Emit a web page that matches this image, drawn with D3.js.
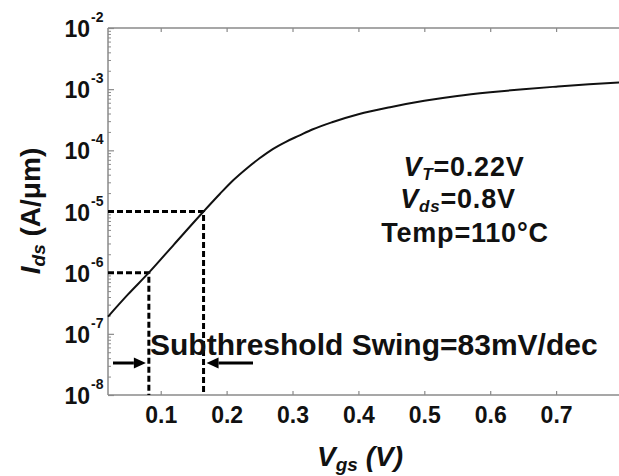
<!DOCTYPE html>
<html>
<head>
<meta charset="utf-8">
<script src="https://cdn.jsdelivr.net/npm/d3@7"></script>
<style>
  html, body { margin: 0; padding: 0; background: #fff; }
  svg { display: block; font-family: "Liberation Sans", Arial, sans-serif; }
</style>
</head>
<body>
<svg id="chart" width="619" height="476"></svg>
<script>
// Transfer characteristic: gate voltage (V) vs drain current (A/um)
const vgs = [0.02, 0.05, 0.082, 0.12, 0.165, 0.19, 0.21, 0.23, 0.25, 0.27, 0.29, 0.31,
             0.33, 0.36, 0.4, 0.45, 0.5, 0.55, 0.6, 0.65, 0.7, 0.75, 0.8];
const ids = [1.91e-7, 4.37e-7, 1.0e-6, 2.88e-6, 1.0e-5, 1.95e-5, 3.24e-5, 5.01e-5,
             7.41e-5, 1.05e-4, 1.38e-4, 1.74e-4, 2.19e-4, 2.88e-4, 3.89e-4, 5.13e-4,
             6.46e-4, 7.76e-4, 8.91e-4, 1.0e-3, 1.10e-3, 1.20e-3, 1.29e-3];

// Two reference points used to read the subthreshold swing
const markerV = [0.082, 0.165];
const markerI = [1e-6, 1e-5];

const xTicks = [0.1, 0.2, 0.3, 0.4, 0.5, 0.6, 0.7];
const yExponents = [-2, -3, -4, -5, -6, -7, -8];
const notes = ["VT=0.22V", "Vds=0.8V", "Temp=110°C"];
const swingLabel = "Subthreshold Swing=83mV/dec";

const svg = d3.select("#chart");
const plotL = 108, plotT = 28, plotB = 395, plotR = 622;

const x = d3.scaleLinear().domain([0.02, 0.8]).range([plotL, plotR]);
const y = d3.scaleLog().domain([1e-8, 1e-2]).range([plotB, plotT]);

const axisColor = "#8a8a8a";

// frame lines (left, bottom, top)
svg.append("line").attr("x1", plotL).attr("x2", plotL).attr("y1", plotT).attr("y2", plotB)
  .attr("stroke", axisColor).attr("stroke-width", 1.5);
svg.append("line").attr("x1", plotL).attr("x2", plotR).attr("y1", plotB).attr("y2", plotB)
  .attr("stroke", axisColor).attr("stroke-width", 1.5);
svg.append("line").attr("x1", plotL).attr("x2", plotR).attr("y1", plotT).attr("y2", plotT)
  .attr("stroke", axisColor).attr("stroke-width", 1.5);

// bottom axis with inward ticks
const xAxis = d3.axisBottom(x).tickValues(xTicks).tickSizeInner(-4).tickSizeOuter(0)
  .tickFormat(d3.format(".1f")).tickPadding(12);
const gx = svg.append("g").attr("transform", `translate(0,${plotB})`).call(xAxis);
gx.select(".domain").remove();
gx.selectAll(".tick line").attr("stroke", axisColor).attr("stroke-width", 1.2);
gx.selectAll(".tick text").attr("fill", "#111").attr("font-size", 23)
  .attr("font-weight", "bold").attr("font-family", "Liberation Sans, Arial, sans-serif");

// top axis ticks
const gt = svg.append("g").attr("transform", `translate(0,${plotT})`)
  .call(d3.axisTop(x).tickValues(xTicks).tickSizeInner(-4).tickSizeOuter(0).tickFormat(""));
gt.select(".domain").remove();
gt.selectAll(".tick line").attr("stroke", axisColor).attr("stroke-width", 1.2);

// left axis: major and minor decade ticks pointing inward
const minorVals = [];
for (let e = -8; e < -2; e++) for (let m = 2; m <= 9; m++) minorVals.push(m * Math.pow(10, e));
const gyMinor = svg.append("g").attr("transform", `translate(${plotL},0)`)
  .call(d3.axisLeft(y).tickValues(minorVals).tickSizeInner(-3).tickSizeOuter(0).tickFormat(""));
gyMinor.select(".domain").remove();
gyMinor.selectAll(".tick line").attr("stroke", axisColor).attr("stroke-width", 1);
const gyMajor = svg.append("g").attr("transform", `translate(${plotL},0)`)
  .call(d3.axisLeft(y).tickValues(yExponents.map(e => Math.pow(10, e)))
    .tickSizeInner(-6).tickSizeOuter(0).tickFormat(""));
gyMajor.select(".domain").remove();
gyMajor.selectAll(".tick line").attr("stroke", axisColor).attr("stroke-width", 1.2);

// y tick labels as 10 with superscript exponent
yExponents.forEach(e => {
  const yy = y(Math.pow(10, e));
  svg.append("text").attr("x", 90).attr("y", yy + 9).attr("text-anchor", "end")
    .attr("font-size", 23).attr("font-weight", "bold").attr("fill", "#111").text("10");
  svg.append("text").attr("x", 91).attr("y", yy - 6).attr("text-anchor", "start")
    .attr("font-size", 14).attr("font-weight", "bold").attr("fill", "#111").text(String(e));
});

// dashed guides to the swing reference points
markerV.forEach((v, i) => {
  const px = x(v), py = y(markerI[i]);
  svg.append("path")
    .attr("d", `M${plotL},${py}H${px}V${plotB}`)
    .attr("fill", "none").attr("stroke", "#000").attr("stroke-width", 3)
    .attr("stroke-dasharray", "6,3");
});

// Ids-Vgs curve
const line = d3.line().x((d, i) => x(vgs[i])).y(d => y(d)).curve(d3.curveMonotoneX);
svg.append("path").datum(ids).attr("d", line)
  .attr("fill", "none").attr("stroke", "#111").attr("stroke-width", 2);

// arrows pointing at the two dashed verticals
const arrowY = 363;
function arrow(x0, x1) {
  const dir = Math.sign(x1 - x0);
  const headLen = 12, headW = 5.5;
  svg.append("line").attr("x1", x0).attr("x2", x1 - dir * headLen)
    .attr("y1", arrowY).attr("y2", arrowY).attr("stroke", "#000").attr("stroke-width", 3);
  svg.append("path")
    .attr("d", `M${x1},${arrowY}L${x1 - dir * headLen},${arrowY - headW}L${x1 - dir * headLen},${arrowY + headW}Z`)
    .attr("fill", "#000");
}
arrow(113, x(markerV[0]) - 3);
arrow(253, x(markerV[1]) + 3);

// swing annotation
svg.append("text").attr("x", 150).attr("y", 355)
  .attr("font-size", 30).attr("font-weight", "bold").attr("fill", "#111")
  .text(swingLabel);

// operating-condition notes
const noteG = svg.append("g").attr("font-size", 27).attr("font-weight", "bold")
  .attr("letter-spacing", 0.8).attr("fill", "#111").attr("text-anchor", "middle");
const n1 = noteG.append("text").attr("x", 464).attr("y", 176);
n1.append("tspan").attr("font-style", "italic").text("V");
n1.append("tspan").attr("font-style", "italic").attr("font-size", 17).attr("dy", 4).text("T");
n1.append("tspan").attr("dy", -4).text("=0.22V");
const n2 = noteG.append("text").attr("x", 458).attr("y", 208);
n2.append("tspan").attr("font-style", "italic").text("V");
n2.append("tspan").attr("font-style", "italic").attr("font-size", 17).attr("dy", 4).text("ds");
n2.append("tspan").attr("dy", -4).text("=0.8V");
noteG.append("text").attr("x", 465).attr("y", 242).text(notes[2]);

// x axis title
const xt = svg.append("text").attr("x", 360).attr("y", 466).attr("text-anchor", "middle")
  .attr("font-size", 28).attr("font-weight", "bold").attr("font-style", "italic").attr("fill", "#111");
xt.append("tspan").text("V");
xt.append("tspan").attr("font-size", 19).attr("dy", 5).text("gs");
xt.append("tspan").attr("dy", -5).text(" (V)");

// y axis title
const yt = svg.append("text").attr("transform", "translate(40,211) rotate(-90)")
  .attr("text-anchor", "middle").attr("font-size", 28).attr("font-weight", "bold").attr("fill", "#111");
yt.append("tspan").attr("font-style", "italic").text("I");
yt.append("tspan").attr("font-style", "italic").attr("font-size", 19).attr("dy", 5).text("ds");
yt.append("tspan").attr("dy", -5).text(" (A/μm)");
</script>
</body>
</html>
